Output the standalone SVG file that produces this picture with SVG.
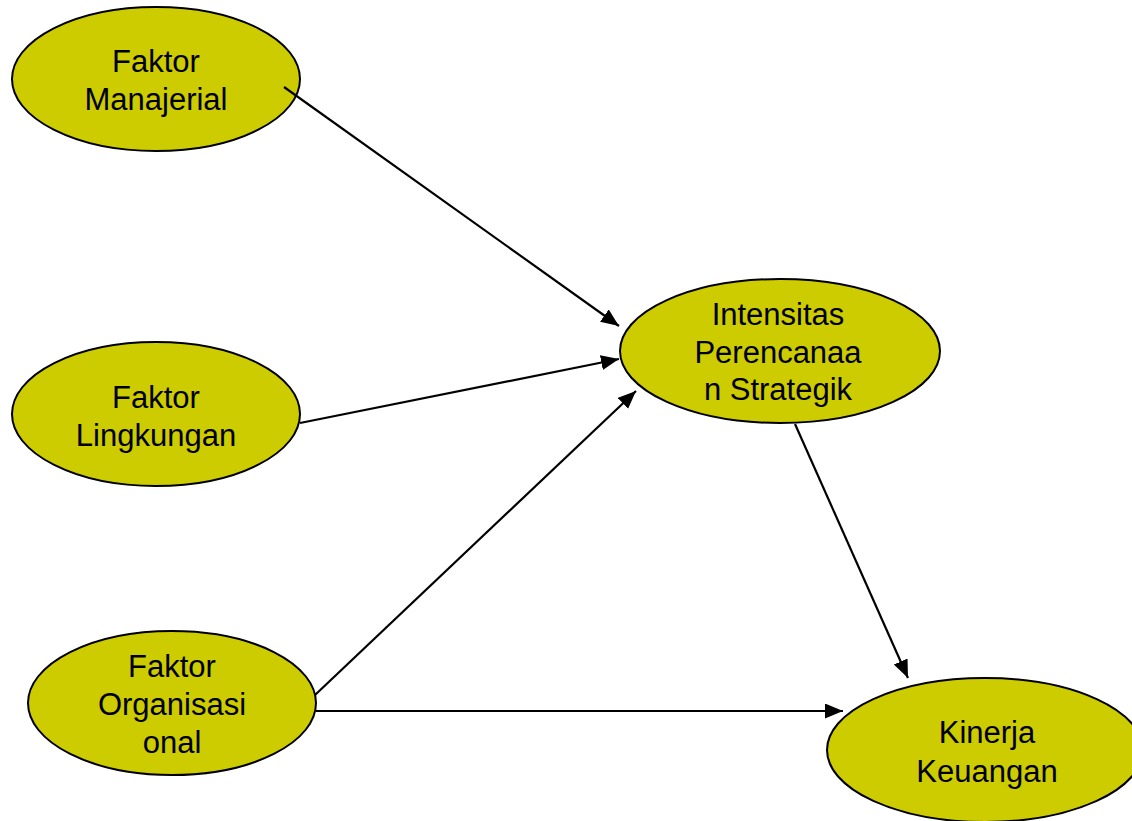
<svg xmlns="http://www.w3.org/2000/svg" width="1132" height="821" viewBox="0 0 1132 821">
<style>
.node{fill:#CCCC00;stroke:#000;stroke-width:2}
.lbl{font-family:"Liberation Sans",Arial,sans-serif;font-size:31px;fill:#000;text-anchor:middle}
.edge{stroke:#000;stroke-width:2.2;fill:none;marker-end:url(#ah)}
</style>
<defs>
<marker id="ah" markerUnits="userSpaceOnUse" markerWidth="19" markerHeight="16" refX="18" refY="7.5" orient="auto">
<path d="M0,0 L18,7.5 L0,15 z" fill="#000"/>
</marker>
</defs>
<rect width="1132" height="821" fill="#fff"/>
<g id="n_manajerial">
<ellipse class="node" cx="156" cy="79" rx="144" ry="72"/>
<text class="lbl" x="156" y="72">Faktor</text>
<text class="lbl" x="156" y="110">Manajerial</text>
</g>
<g id="n_lingkungan">
<ellipse class="node" cx="156" cy="414" rx="144" ry="72"/>
<text class="lbl" x="156" y="408">Faktor</text>
<text class="lbl" x="156" y="446">Lingkungan</text>
</g>
<g id="n_organisasional">
<ellipse class="node" cx="172" cy="703" rx="144" ry="72"/>
<text class="lbl" x="172" y="677">Faktor</text>
<text class="lbl" x="172" y="715">Organisasi</text>
<text class="lbl" x="172" y="753">onal</text>
</g>
<g id="n_intensitas">
<ellipse class="node" cx="780" cy="351" rx="160" ry="72"/>
<text class="lbl" x="778" y="325">Intensitas</text>
<text class="lbl" x="778" y="363">Perencanaa</text>
<text class="lbl" x="778" y="400">n Strategik</text>
</g>
<g id="n_kinerja">
<ellipse class="node" cx="985" cy="750" rx="158" ry="72"/>
<text class="lbl" x="987" y="743">Kinerja</text>
<text class="lbl" x="987" y="782">Keuangan</text>
</g>
<g id="connectors">
<line class="edge" x1="284" y1="87" x2="619" y2="326"/>
<line class="edge" x1="300" y1="423" x2="619" y2="359"/>
<line class="edge" x1="315" y1="695" x2="636" y2="391"/>
<line class="edge" x1="316" y1="711" x2="843" y2="711"/>
<line class="edge" x1="795" y1="424" x2="908" y2="678"/>
</g>
</svg>
